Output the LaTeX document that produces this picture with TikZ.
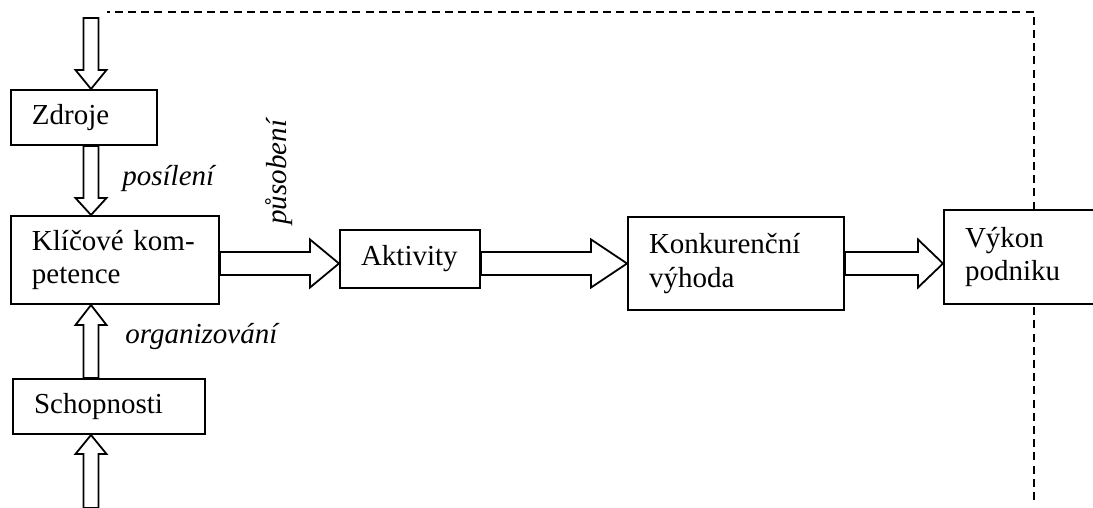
\documentclass[tikz,border=0pt]{standalone}
\usepackage{fontspec}
\setmainfont{Liberation Serif}
\usetikzlibrary{calc}

\tikzset{
  stage/.style={draw, fill=white, line width=1pt, rectangle, anchor=north west,
    inner xsep=10.5pt, inner ysep=0pt, align=left,
    font=\fontsize{14.5}{16.75}\selectfont},
  flowlabel/.style={font=\fontsize{14.5}{16.75}\selectfont\itshape, inner sep=0pt},
  feedback/.style={line width=0.8pt, dash pattern=on 4pt off 2.6pt},
  blockarrow/.style={line width=0.9pt},
  % hollow block arrows drawn between two points; #1 = length of the head
  downblock/.style={blockarrow, to path={let \p1=(\tikztostart), \p2=(\tikztotarget) in
    (\x1-3.75pt,\y1) -- (\x1-3.75pt,\y2+#1) -- (\x1-7.75pt,\y2+#1) -- (\x1,\y2)
    -- (\x1+7.75pt,\y2+#1) -- (\x1+3.75pt,\y2+#1) -- (\x1+3.75pt,\y1) -- cycle}},
  upblock/.style={blockarrow, to path={let \p1=(\tikztostart), \p2=(\tikztotarget) in
    (\x1-3.75pt,\y1) -- (\x1-3.75pt,\y2-#1) -- (\x1-7.75pt,\y2-#1) -- (\x1,\y2)
    -- (\x1+7.75pt,\y2-#1) -- (\x1+3.75pt,\y2-#1) -- (\x1+3.75pt,\y1) -- cycle}},
  rightblock/.style={blockarrow, to path={let \p1=(\tikztostart), \p2=(\tikztotarget) in
    (\x1,\y1+5.75pt) -- (\x2-#1,\y1+5.75pt) -- (\x2-#1,\y1+12pt) -- (\x2,\y1)
    -- (\x2-#1,\y1-12pt) -- (\x2-#1,\y1-5.75pt) -- (\x1,\y1-5.75pt) -- cycle}},
}

\begin{document}
\begin{tikzpicture}[x=0.5pt, y=-0.5pt]
  \useasboundingbox (0,0) rectangle (1093,508);
  \clip (0,0) rectangle (1093,508);

  % helper points: column of the vertical arrows, level of the main flow
  \coordinate (col) at (91,0);
  \coordinate (lvl) at (0,263.5);
  \coordinate (inTop) at (91,18);
  \coordinate (inBot) at (91,508);
  \coordinate (fbEnd) at (107,12);
  \coordinate (fbBot) at (1034,500);

  % feedback line from company performance back to the resources
  \draw[feedback] (fbBot) |- (fbEnd);

  % stages
  \node[stage, minimum width=73pt, minimum height=27.5pt, text width=52pt]
    (zdroje) at (10,89) {Zdroje};
  \node[stage, minimum width=104pt, minimum height=44pt, text width=83pt]
    (klic) at (10,215) {Klíčové kom-\\petence};
  \node[stage, minimum width=96pt, minimum height=27.5pt, text width=75pt]
    (schop) at (12,378) {Schopnosti};
  \node[stage, minimum width=70pt, minimum height=29pt, text width=49pt]
    (akt) at (339,229) {Aktivity};
  \node[stage, minimum width=108pt, minimum height=46.5pt, text width=87pt]
    (konk) at (627,216) {Konkurenční\\výhoda};
  \node[stage, minimum width=80pt, minimum height=47pt, text width=59pt]
    (vykon) at (943,209) {Výkon\\podniku};

  % vertical flows
  \draw[downblock=9.5pt] (inTop) to (zdroje.north -| col);
  \draw[downblock=8.5pt] (zdroje.south -| col) to (klic.north -| col);
  \draw[upblock=10pt] (schop.north -| col) to (klic.south -| col);
  \draw[upblock=9.5pt] (inBot) to (schop.south -| col);

  % main horizontal flow
  \draw[rightblock=14.5pt] (klic.east |- lvl) to (akt.west |- lvl);
  \draw[rightblock=18pt] (akt.east |- lvl) to (konk.west |- lvl);
  \draw[rightblock=12.5pt] (konk.east |- lvl) to (vykon.west |- lvl);

  % flow labels
  \node[flowlabel, anchor=base west] (lposileni) at (122,185) {posílení};
  \node[flowlabel, anchor=base west] (lorg) at (125,343) {organizování};
  \node[flowlabel, anchor=base west, rotate=90] (lpusob) at (286,225) {působení};
\end{tikzpicture}
\end{document}
